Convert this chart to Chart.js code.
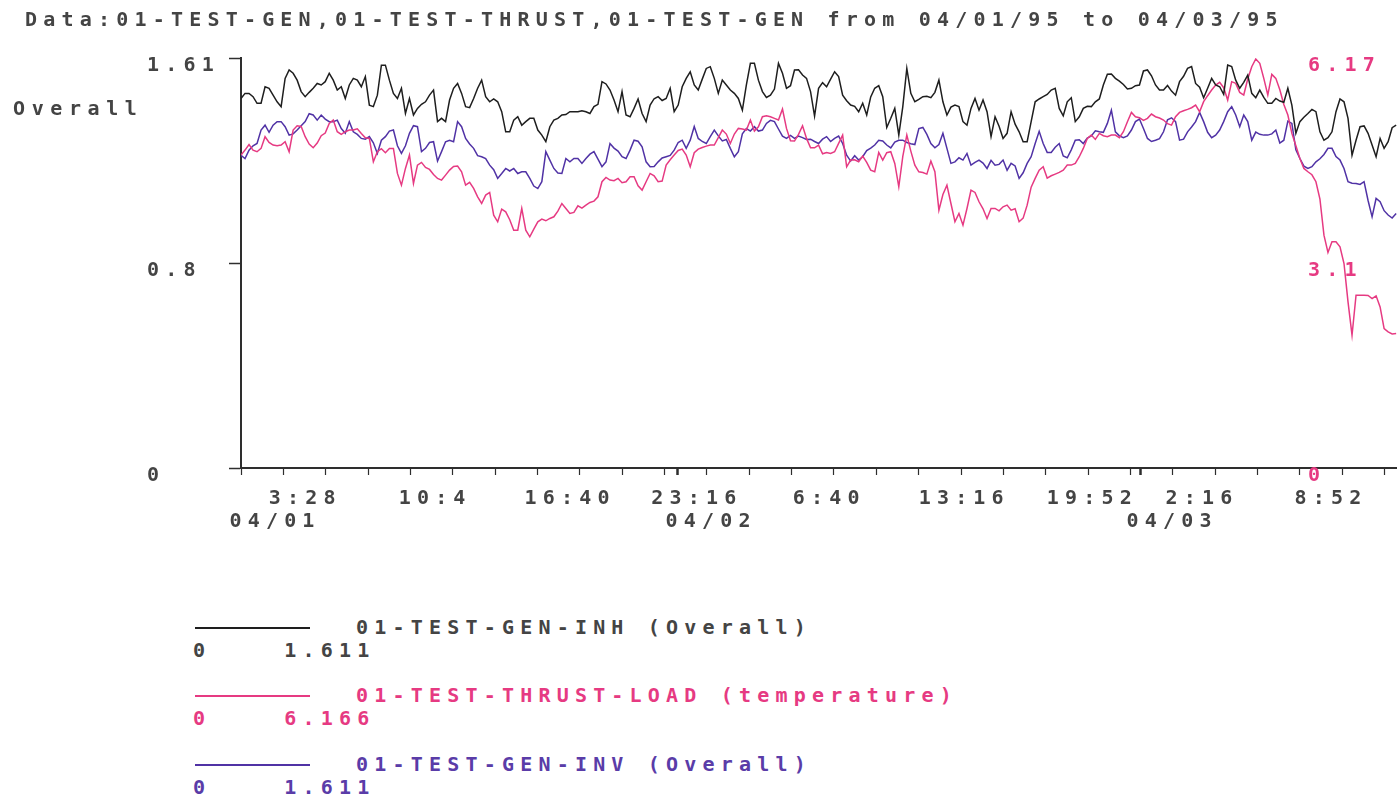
<!DOCTYPE html>
<html>
<head>
<meta charset="utf-8">
<script src="https://cdn.jsdelivr.net/npm/chart.js@4.4.0/dist/chart.umd.min.js"></script>
<style>
html,body{margin:0;padding:0;background:#fff;overflow:hidden;width:1397px;height:799px;}
#wrap{position:relative;width:1397px;height:799px;overflow:hidden;background:#fff;}
#c{position:absolute;left:0;top:0;}
.t{position:absolute;font-family:"DejaVu Sans Mono",monospace;font-weight:bold;white-space:pre;line-height:20px;font-size:20px;}
.ln{position:absolute;height:0;}
</style>
</head>
<body>
<div id="wrap">
<canvas id="c" width="1410" height="545" style="width:1410px;height:545px"></canvas>
<div id="title" class="t" style="left:25px;top:9px;letter-spacing:6.2px;color:#444"></div>
<div id="ylabel" class="t" style="left:13px;top:98px;letter-spacing:6.6px;color:#444"></div>
<div id="legend"></div>
</div>
<script>
// ---------- text ----------
const chartTitle = 'Data:01-TEST-GEN,01-TEST-THRUST,01-TEST-GEN from 04/01/95 to 04/03/95';
const yAxisTitle = 'Overall';

// ---------- series ----------
const seriesNames = ['01-TEST-GEN-INH (Overall)', '01-TEST-THRUST-LOAD (temperature)', '01-TEST-GEN-INV (Overall)'];
const seriesMin = ['0', '0', '0'];
const seriesMax = ['1.611', '6.166', '1.611'];
const seriesColors = ['#1e1e1e', '#e63a82', '#5032a5'];
const legendTextColors = ['#444444', '#e63a82', '#5a3ca8'];

// minutes between samples (from start of the plotted window)
const sampleStepMinutes = 12.5;

// 01-TEST-GEN-INH (Overall), left axis
const genInh = [
1.452,1.472,1.472,1.459,1.433,1.433,1.498,1.492,1.465,1.439,1.420,1.531,1.564,1.551,1.524,1.479,1.459,1.476,1.492,1.511,
1.505,1.518,1.551,1.524,1.485,1.498,1.452,1.505,1.531,1.524,1.498,1.538,1.426,1.420,1.465,1.583,1.583,1.524,1.472,1.452,
1.492,1.393,1.452,1.387,1.413,1.429,1.439,1.465,1.485,1.361,1.374,1.361,1.446,1.492,1.511,1.472,1.420,1.416,1.452,1.492,
1.524,1.459,1.439,1.450,1.439,1.400,1.321,1.321,1.367,1.380,1.347,1.361,1.374,1.374,1.328,1.308,1.282,1.341,1.367,1.374,
1.387,1.389,1.400,1.400,1.400,1.404,1.400,1.393,1.420,1.429,1.518,1.509,1.485,1.446,1.400,1.479,1.387,1.380,1.413,1.450,
1.393,1.361,1.426,1.451,1.459,1.444,1.452,1.492,1.400,1.426,1.498,1.531,1.557,1.505,1.485,1.528,1.570,1.577,1.531,1.472,
1.524,1.505,1.485,1.472,1.452,1.406,1.505,1.590,1.590,1.524,1.479,1.456,1.465,1.489,1.590,1.551,1.492,1.502,1.564,1.565,
1.544,1.531,1.479,1.383,1.492,1.514,1.498,1.528,1.557,1.538,1.465,1.443,1.426,1.421,1.400,1.433,1.387,1.458,1.492,1.502,
1.459,1.338,1.374,1.413,1.308,1.420,1.570,1.472,1.439,1.448,1.459,1.461,1.455,1.476,1.524,1.439,1.387,1.418,1.426,1.420,
1.361,1.347,1.413,1.452,1.406,1.446,1.400,1.302,1.380,1.343,1.295,1.315,1.400,1.351,1.321,1.282,1.282,1.361,
1.439,1.450,1.459,1.468,1.485,1.492,1.413,1.384,1.439,1.455,1.361,1.380,1.413,1.421,1.420,1.439,1.450,1.505,1.547,1.548,
1.531,1.520,1.507,1.489,1.492,1.502,1.505,1.560,1.564,1.541,1.505,1.485,1.485,1.503,1.481,1.465,1.518,1.539,1.570,1.577,
1.511,1.496,1.455,1.492,1.531,1.505,1.498,1.468,1.583,1.577,1.524,1.492,1.515,1.544,1.472,1.455,1.485,1.456,1.433,1.433,
1.452,1.442,1.437,1.492,1.426,1.315,1.361,1.378,1.393,1.409,1.400,1.321,1.288,1.298,1.321,1.400,1.450,1.439,1.374,1.229,
1.288,1.341,1.344,1.315,1.269,1.223,1.295,1.256,1.282,1.337,1.347
];

// 01-TEST-THRUST-LOAD (temperature), right axis
const thrustLoad = [
4.706,4.781,4.866,4.781,4.756,4.806,4.982,4.897,4.856,4.846,4.856,4.907,4.756,5.082,5.147,5.137,4.982,4.871,4.816,4.886,
4.997,5.037,5.183,5.233,5.057,5.017,5.057,5.082,5.082,5.102,5.032,4.967,4.957,4.606,4.756,4.801,4.741,4.806,4.806,4.430,
4.254,4.505,4.706,4.279,4.555,4.596,4.520,4.490,4.415,4.355,4.330,4.405,4.480,4.535,4.540,4.455,4.254,4.295,4.204,4.079,
3.978,4.104,4.144,3.803,3.703,3.893,3.853,3.733,3.577,3.577,3.903,3.577,3.477,3.592,3.703,3.743,3.718,3.753,3.778,3.863,
3.978,3.903,3.828,3.843,3.943,3.908,3.953,3.993,4.014,4.079,4.305,4.370,4.330,4.320,4.355,4.290,4.305,4.380,4.380,4.244,
4.179,4.305,4.430,4.395,4.305,4.315,4.555,4.636,4.706,4.776,4.796,4.706,4.530,4.741,4.796,4.821,4.841,4.856,4.856,4.967,
5.082,5.022,4.881,5.022,5.107,5.097,5.082,5.233,5.067,5.132,5.283,5.298,5.283,5.258,5.233,5.398,5.107,4.922,4.917,5.017,
5.147,4.957,4.816,4.816,4.856,4.726,4.746,4.731,4.756,4.881,5.007,4.530,4.631,4.636,4.606,4.691,4.596,4.480,4.455,4.746,
4.631,4.741,4.756,4.581,4.229,4.686,5.007,4.766,4.555,4.455,4.445,4.420,4.616,4.455,3.878,4.114,4.254,3.978,3.703,3.828,
3.652,3.903,4.179,4.144,4.004,3.898,3.753,3.903,3.903,3.868,3.928,3.953,3.878,3.898,3.703,3.758,3.953,4.224,
4.355,4.480,4.530,4.360,4.395,4.420,4.445,4.480,4.555,4.555,4.581,4.681,4.806,4.957,5.007,4.942,5.032,4.997,4.982,5.007,
5.007,4.967,5.057,5.208,5.348,5.283,5.268,5.228,5.258,5.323,5.283,5.263,5.233,5.178,5.157,5.283,5.348,5.373,5.393,5.418,
5.458,5.358,5.509,5.599,5.684,5.759,5.800,5.719,5.534,5.810,5.785,5.649,5.609,5.850,6.035,6.151,6.086,5.860,5.609,5.920,
5.860,5.689,5.468,5.308,5.032,4.846,4.656,4.505,4.455,4.410,4.305,4.044,3.502,3.241,3.401,3.401,3.326,3.075,2.498,1.997,
2.599,2.599,2.599,2.594,2.549,2.589,2.423,2.097,2.047,2.017,2.022
];

// 01-TEST-GEN-INV (Overall), left axis
const genInv = [
1.229,1.216,1.249,1.266,1.275,1.328,1.347,1.319,1.347,1.361,1.361,1.341,1.308,1.313,1.328,1.345,1.361,1.392,1.387,1.367,
1.387,1.371,1.361,1.361,1.367,1.334,1.315,1.361,1.321,1.311,1.295,1.292,1.302,1.278,1.236,1.288,1.302,1.324,1.328,1.266,
1.236,1.266,1.315,1.345,1.341,1.243,1.256,1.279,1.282,1.206,1.243,1.282,1.288,1.282,1.361,1.341,1.295,1.273,1.256,1.227,
1.223,1.216,1.190,1.172,1.138,1.157,1.177,1.167,1.177,1.157,1.164,1.164,1.138,1.108,1.098,1.125,1.243,1.210,1.177,1.159,
1.157,1.216,1.203,1.216,1.216,1.197,1.216,1.233,1.243,1.214,1.184,1.203,1.275,1.257,1.245,1.223,1.216,1.249,1.288,1.284,
1.262,1.203,1.184,1.185,1.203,1.218,1.223,1.228,1.249,1.279,1.288,1.256,1.288,1.342,1.295,1.283,1.275,1.302,1.328,1.305,
1.285,1.291,1.256,1.223,1.243,1.313,1.334,1.324,1.341,1.324,1.328,1.354,1.366,1.361,1.332,1.304,1.295,1.307,1.295,1.304,
1.298,1.291,1.292,1.283,1.275,1.292,1.302,1.283,1.295,1.304,1.275,1.229,1.206,1.227,1.210,1.223,1.247,1.257,1.269,1.288,
1.285,1.269,1.258,1.281,1.288,1.288,1.279,1.274,1.271,1.334,1.338,1.311,1.275,1.258,1.271,1.315,1.256,1.197,1.203,1.219,
1.210,1.236,1.190,1.201,1.210,1.198,1.177,1.209,1.190,1.193,1.210,1.170,1.197,1.187,1.138,1.160,1.197,1.223,
1.275,1.323,1.275,1.240,1.240,1.260,1.275,1.226,1.219,1.250,1.288,1.290,1.275,1.296,1.305,1.325,1.321,1.319,1.354,1.406,
1.321,1.305,1.298,1.305,1.328,1.361,1.371,1.334,1.295,1.283,1.288,1.294,1.321,1.368,1.376,1.361,1.288,1.292,1.321,1.340,
1.361,1.397,1.361,1.319,1.298,1.308,1.328,1.361,1.400,1.420,1.387,1.341,1.387,1.361,1.288,1.320,1.311,1.308,1.308,1.313,
1.328,1.277,1.288,1.363,1.354,1.250,1.216,1.186,1.177,1.184,1.203,1.215,1.232,1.256,1.256,1.224,1.210,1.177,1.125,1.119,
1.118,1.114,1.125,1.051,0.987,1.059,1.046,1.011,0.994,0.982,1.000
];

// ---------- axes ----------
const xEnd = 3612;                     // minutes shown
const minorTickStep = 132;             // minutes between small axis ticks
const dayBoundaryAt = [1361, 2802];    // 04/02 00:00, 04/03 00:00
const timeTickLabels = ['3:28', '10:4', '16:40', '23:16', '6:40', '13:16', '19:52', '2:16', '8:52'];
const timeTickAt = [200, 605, 1026, 1421, 1833, 2254, 2653, 2995, 3397];
const dateTickLabels = ['04/01', '04/02', '04/03'];
const dateTickAt = [106, 1465, 2902];
const leftTicks = [0, 0.8055, 1.611];
const leftTickLabels = ['0', '0.8', '1.61'];
const leftMax = 1.611;
const rightTicks = [0, 3.083, 6.166];
const rightTickLabels = ['0', '3.1', '6.17'];
const rightMax = 6.166;

// ---------- build ----------
const AX = '#2e2e2e';
const TXT = '#444444';
const FONT = { family: "'DejaVu Sans Mono', monospace", size: 20, weight: 'bold' };
const LETTER_SPACING = '6.2px';

document.getElementById('title').textContent = chartTitle;
document.getElementById('ylabel').textContent = yAxisTitle;

const legendRowsTop = [617, 685, 754];
const legendEl = document.getElementById('legend');
seriesNames.forEach((name, i) => {
  const top = legendRowsTop[i];
  const ln = document.createElement('div');
  ln.className = 'ln';
  ln.style.cssText = `left:195px;width:115px;top:${top + 10}px;border-top:2px solid ${seriesColors[i]};`;
  legendEl.appendChild(ln);
  const nm = document.createElement('div');
  nm.className = 't';
  nm.style.cssText = `left:356px;top:${top}px;letter-spacing:6.2px;color:${legendTextColors[i]};`;
  nm.textContent = name;
  legendEl.appendChild(nm);
  const rg = document.createElement('div');
  rg.className = 't';
  rg.style.cssText = `left:193px;top:${top + 23}px;letter-spacing:6.2px;color:${legendTextColors[i]};`;
  rg.textContent = seriesMin[i] + '    ' + seriesMax[i];
  legendEl.appendChild(rg);
});

const toPoints = arr => arr.map((v, i) => ({ x: i * sampleStepMinutes, y: v }));

const minorTicks = [];
for (let m = 0; m <= xEnd; m += minorTickStep) minorTicks.push(m);
const xTickValues = [...new Set([...minorTicks, ...dayBoundaryAt, ...timeTickAt])].sort((a, b) => a - b);

const spacingPlugin = {
  id: 'letterSpacing',
  beforeLayout(chart) { chart.ctx.letterSpacing = LETTER_SPACING; },
  beforeDraw(chart) { chart.ctx.letterSpacing = LETTER_SPACING; }
};

new Chart(document.getElementById('c'), {
  type: 'line',
  data: {
    datasets: [
      { label: seriesNames[0], data: toPoints(genInh), borderColor: seriesColors[0], yAxisID: 'y' },
      { label: seriesNames[1], data: toPoints(thrustLoad), borderColor: seriesColors[1], yAxisID: 'y2' },
      { label: seriesNames[2], data: toPoints(genInv), borderColor: seriesColors[2], yAxisID: 'y' }
    ]
  },
  options: {
    responsive: false,
    animation: false,
    devicePixelRatio: 1,
    layout: { padding: { left: 147, top: 58, right: 0, bottom: 0 } },
    elements: { line: { borderWidth: 1.5, tension: 0, fill: false }, point: { radius: 0 } },
    plugins: { legend: { display: false }, tooltip: { enabled: false }, title: { display: false } },
    scales: {
      x: {
        type: 'linear', position: 'bottom', min: 0, max: xEnd, weight: 0,
        afterFit: s => { s.height = 38; },
        afterBuildTicks: s => { s.ticks = xTickValues.map(v => ({ value: v })); },
        ticks: {
          autoSkip: false, maxRotation: 0, minRotation: 0, padding: 12, color: TXT, font: FONT,
          callback: v => { const k = timeTickAt.indexOf(v); return k >= 0 ? timeTickLabels[k] : ''; }
        },
        grid: {
          drawOnChartArea: false, drawTicks: true, tickLength: 7,
          tickColor: c => (c.tick && timeTickAt.includes(c.tick.value)) ? 'rgba(0,0,0,0)' : AX,
          tickWidth: c => (c.tick && dayBoundaryAt.includes(c.tick.value)) ? 2.5 : 1.2
        },
        border: { display: true, color: AX, width: 2 }
      },
      x2: {
        type: 'linear', position: 'bottom', min: 0, max: xEnd, weight: 1,
        afterFit: s => { s.height = 39; },
        afterBuildTicks: s => { s.ticks = dateTickAt.map(v => ({ value: v })); },
        ticks: {
          autoSkip: false, maxRotation: 0, minRotation: 0, padding: 4, color: TXT, font: FONT,
          callback: (v, i) => dateTickLabels[i]
        },
        grid: { display: false, drawTicks: false },
        border: { display: false }
      },
      y: {
        type: 'linear', position: 'left', min: 0, max: leftMax,
        afterFit: s => { s.width = 94; },
        afterBuildTicks: s => { s.ticks = leftTicks.map(v => ({ value: v })); },
        ticks: { crossAlign: 'far', labelOffset: 8, padding: 6, color: TXT, font: FONT,
          callback: (v, i) => leftTickLabels[i] },
        grid: { drawOnChartArea: false, drawTicks: true, tickLength: 12, tickColor: AX, tickWidth: 1.5 },
        border: { display: true, color: AX, width: 2 }
      },
      y2: {
        type: 'linear', position: 'right', min: 0, max: rightMax,
        afterFit: s => { s.width = 10; },
        afterBuildTicks: s => { s.ticks = rightTicks.map(v => ({ value: v })); },
        ticks: { mirror: true, crossAlign: 'far', labelOffset: 8, padding: -19, color: seriesColors[1], font: FONT,
          callback: (v, i) => rightTickLabels[i] },
        grid: { drawOnChartArea: false, drawTicks: false },
        border: { display: false }
      }
    }
  },
  plugins: [spacingPlugin]
});
</script>
</body>
</html>
